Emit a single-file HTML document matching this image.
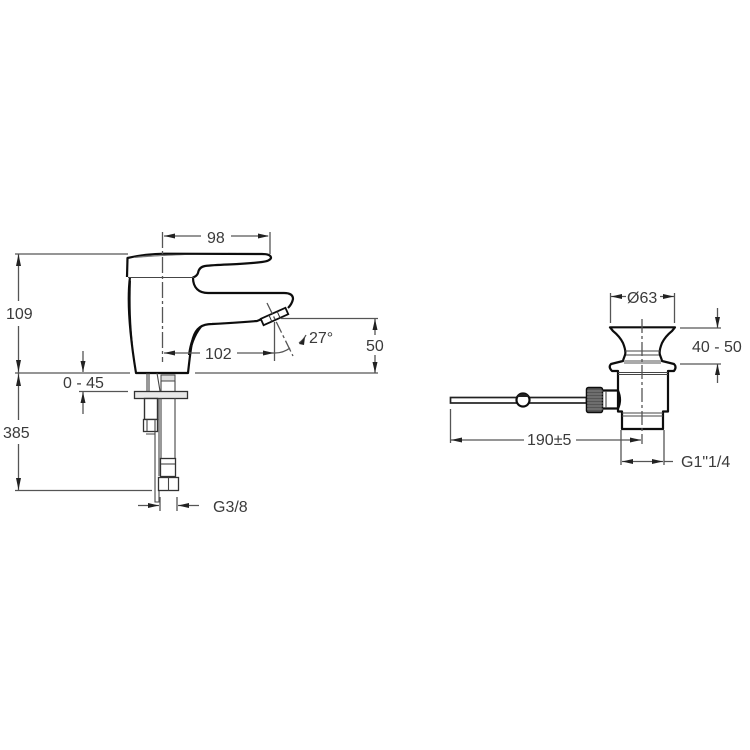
<!DOCTYPE html>
<html><head><meta charset="utf-8"><style>
html,body{margin:0;padding:0;background:#fff}
svg{display:block}
text{font-family:"Liberation Sans",sans-serif;font-size:16px;fill:#3a3a3a}
.d{stroke:#555;stroke-width:1.3;fill:none}
.o{stroke:#111;stroke-width:2.2;fill:none;stroke-linejoin:round}
.t{stroke:#444;stroke-width:1.1;fill:none}
.a{fill:#222;stroke:none}
</style></head><body>
<svg width="750" height="750" viewBox="0 0 750 750" xmlns="http://www.w3.org/2000/svg">
<defs><filter id="b" x="0" y="0" width="100%" height="100%"><feGaussianBlur stdDeviation="0.35"/></filter></defs>
<g filter="url(#b)">
<!-- faucet -->
<path class="o" d="M127 277 L127.500 258 C140 255 150 254 165 253.700 L262 254 Q271 254 271 258 Q270 261 262 262 C240 265 220 264 205 266 Q199 267 198 273 Q197 276 193 277.500 C193 288 199 293 208 293 L284 293 Q293 293 293 299 Q292 304 288 308"/>
<path class="o" d="M130 277 C127 300 129 330 136 373 L188 373 C190 355 191 345 193 338 C196 328 202 324 212 324 C230 323 245 322 257 321 L262 319"/>
<path d="M129 285 C127 305 129 325 133 345 C131 325 130 305 131 280Z" fill="#111"/>
<path d="M188 355 C190 340 194 330 204 325 C197 332 193 342 190 355Z" fill="#111"/>
<path class="t" d="M128 277.500H194"/>
<path d="M135 257 C145 255 160 255 185 255 C160 256 145 257 135 258Z" fill="#777"/>
<g transform="rotate(-24 274.500 316.500)"><rect x="261" y="313" width="27" height="7" fill="#fff" stroke="#111" stroke-width="1.800"/><path d="M270 313v7M279 313v7" stroke="#333" stroke-width="1"/></g>
<path class="d" stroke-dasharray="16 3 3 3" d="M162.500 232V362"/>
<path class="d" stroke-dasharray="12 3 3 3" d="M267 303L293 356"/>
<!-- under deck -->
<path class="t" d="M147 373V391M149 373V391M157 373L160 391"/>
<rect x="161" y="375" width="14" height="6" fill="#ddd" stroke="#444"/>
<path class="t" d="M161 381V391M175 381V391"/>
<rect x="134.500" y="391.500" width="53" height="7" fill="#e8e8e8" stroke="#333" stroke-width="1.300"/>
<rect x="144.500" y="398.500" width="13" height="21" fill="#fff" stroke="#333" stroke-width="1.400"/>
<rect x="143.500" y="419.500" width="14" height="12" fill="#fff" stroke="#333" stroke-width="1.300"/>
<path class="t" d="M147 419.500V431M155 419.500V431"/>
<path class="t" d="M161 398V458M175 398V458"/>
<rect x="160.500" y="458.500" width="15" height="18" fill="#fff" stroke="#333" stroke-width="1.300"/>
<path class="t" d="M161 464H175"/>
<rect x="158.500" y="477.500" width="20" height="13" fill="#fff" stroke="#333" stroke-width="1.300"/>
<path class="t" d="M168.500 477.500V490.500"/>
<path class="t" d="M155 431V502H159V491M159 398V476M146 434H155"/>
<!-- left dims -->
<path class="d" d="M15 254H128M15 373H130M195 373H378M15 490.500H152M79 391.500H128"/>
<path class="d" d="M18.500 254V301M18.500 326V373M18.500 373V420M18.500 444V490M83 351V372M83 392V414"/>
<path class="a" d="M18.500 254l-2.500 12h5zM18.500 372l-2.500-12h5zM18.500 374l-2.500 12h5zM18.500 490l-2.500-12h5zM83 372l-2.500-11h5zM83 392l-2.500 11h5z"/>
<path class="d" d="M164 236H201M231 236H268M270 232V254M164 353H200M237 353H274M274.500 322V361M281 318.500H378M375 319V335M375 355V373"/>
<path class="a" d="M164 236l11-2.500v5zM269 236l-11-2.500v5zM164 353l11-2.500v5zM274 353l-11-2.500v5zM375 319l-2.500 11h5zM375 373l-2.500-11h5z"/>
<path class="d" d="M275 353C281 353 286 351 290 348M299 343C303 340 305 337 306 335"/>
<path class="a" d="M299 344l6-7 -1 8z"/>
<path class="d" d="M138 505.500H159M178 505.500H199M160 497V511M177 497V511"/>
<path class="a" d="M159 505.500l-11-2.500v5zM178 505.500l11-2.500v5z"/>
<!-- waste -->
<rect x="450.500" y="397.500" width="136" height="5.500" fill="#fff" stroke="#222" stroke-width="1.700"/>
<circle cx="523" cy="400" r="6.500" fill="#fff" stroke="#111" stroke-width="2.200"/>
<path d="M517 397A7 7 0 0 1 529 397Z" fill="#222"/>
<rect x="586.500" y="387.500" width="16" height="25" rx="2" fill="#555" stroke="#111" stroke-width="1.500"/>
<path d="M587 391H603M587 394H603M587 397H603M587 400H603M587 403H603M587 406H603M587 409H603" stroke="#999" stroke-width=".7"/>
<path class="o" d="M603 390.500H618M603 408.500H618"/>
<path class="t" d="M606 391V408"/>
<path class="o" d="M618 390.500Q622 400 618 408.500"/>
<path d="M610 327.300H675L672 331C667 335 664 339 662 343C660 348 659 352 660 355C661 358 662 360 662 361Q670 363 674 364Q677 367 674 371H668V411.500H663V429H622V411.500H618V371H612Q608 367 611 364Q615 363 623 361C623 360 624 358 625 355C626 352 625 348 623 343C621 339 618 335 613 331Z" fill="none" stroke="#111" stroke-width="2.200" stroke-linejoin="round"/>
<path class="t" d="M625 351H660M626 355H659"/>
<path d="M624 360H661V364H624Z" fill="#aaa"/>
<path class="t" d="M618 372.500H668M618 374.500H668M622 413H663M622 416H663"/>
<path class="d" stroke-dasharray="14 3 3 3" d="M642 319V444"/>
<path class="d" d="M610.500 293V323M674.500 293V323M611 296.500H626M660 296.500H674M680 328H721M680 364H721M717.500 308V328M717.500 364V383"/>
<path class="a" d="M611 296.500l11-2.500v5zM674 296.500l-11-2.500v5zM717.500 328l-2.500-11h5zM717.500 364l-2.500 11h5z"/>
<path class="d" d="M450.500 409V443M451 440H524M576 440H641M621 430V465M664 430V465M622 461.500H663M664 461.500H673"/>
<path class="a" d="M451 440l11-2.500v5zM641 440l-11-2.500v5zM622 461.500l11-2.500v5zM663 461.500l-11-2.500v5z"/>
<text x="207" y="243">98</text>
<text x="205" y="359">102</text>
<text x="309" y="343">27°</text>
<text x="366" y="351">50</text>
<text x="6" y="319">109</text>
<text x="3" y="438">385</text>
<text x="63" y="388">0 - 45</text>
<text x="213" y="512">G3/8</text>
<text x="627" y="303">Ø63</text>
<text x="692" y="352">40 - 50</text>
<text x="527" y="445">190±5</text>
<text x="681" y="467">G1"1/4</text>
</g>
</svg>
</body></html>
